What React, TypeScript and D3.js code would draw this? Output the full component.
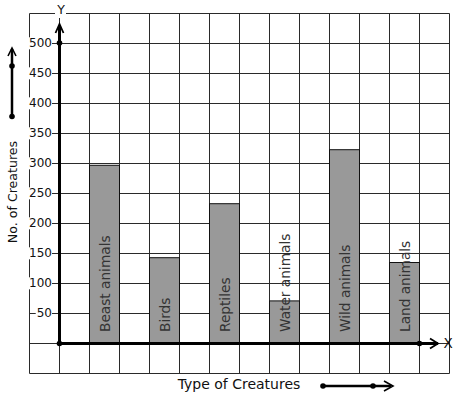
import { useEffect, useRef } from "react";
import * as d3 from "d3";

const categories = ["Beast animals", "Birds", "Reptiles", "Water animals", "Wild animals", "Land animals"];
const counts = [297, 143, 233, 71, 323, 135];
const yTicks = [50, 100, 150, 200, 250, 300, 350, 400, 450, 500];

const FONT = "DejaVu Sans, Verdana, sans-serif";

export default function App() {
  const svgRef = useRef<SVGSVGElement>(null);

  useEffect(() => {
    if (!svgRef.current) return;
    const W = 457;
    const H = 399;
    const svg = d3.select(svgRef.current);
    svg.selectAll("*").remove();
    svg.attr("width", W).attr("height", H);

    // value scale: 50 units per grid cell of 30px
    const y = d3.scaleLinear().domain([0, 500]).range([343, 43]);
    // grid column scale (one unit = one 30px cell), y axis at 0
    const gx = d3.scaleLinear().domain([-1, 13]).range([29, 449]);
    const x = d3.scaleBand<string>()
      .domain(categories)
      .range([gx(0.5), gx(12.5)])
      .paddingInner(0.5)
      .paddingOuter(0.25);

    const data = categories.map((c, i) => ({ name: c, value: counts[i] }));

    // Grid
    const grid = svg.append("g").attr("stroke", "#2a2a2a").attr("stroke-width", 1);
    grid.selectAll(".gv")
      .data(d3.range(-1, 14))
      .enter().append("line")
      .attr("x1", d => gx(d) + 0.5).attr("x2", d => gx(d) + 0.5)
      .attr("y1", y(550) + 0.5).attr("y2", y(-50) + 0.5);
    grid.selectAll(".gh")
      .data(d3.range(-50, 551, 50))
      .enter().append("line")
      .attr("x1", gx(-1) + 0.5).attr("x2", gx(13) + 0.5)
      .attr("y1", d => y(d) + 0.5).attr("y2", d => y(d) + 0.5);

    // Bars
    svg.selectAll(".bar")
      .data(data).enter().append("rect")
      .attr("x", d => (x(d.name) ?? 0) + 0.5)
      .attr("y", d => y(d.value) + 0.5)
      .attr("width", x.bandwidth())
      .attr("height", d => y(0) - y(d.value))
      .attr("fill", "#999999")
      .attr("stroke", "#111")
      .attr("stroke-width", 1);

    // Bar labels (rotated)
    svg.selectAll(".blabel")
      .data(data).enter().append("text")
      .attr("transform", d => `translate(${(x(d.name) ?? 0) + x.bandwidth() / 2 + 5.5},${y(0) - 11}) rotate(-90)`)
      .attr("font-family", FONT).attr("font-size", "13.7px")
      .attr("fill", "#333")
      .text(d => d.name);

    // Y tick labels with white background
    const tl = svg.append("g");
    yTicks.forEach(t => {
      const txt = tl.append("text")
        .attr("x", 52).attr("y", y(t)).attr("dy", "0.36em")
        .attr("text-anchor", "end")
        .attr("font-family", FONT).attr("font-size", "12px")
        .attr("fill", "#111")
        .text(String(t));
      const bb = (txt.node() as SVGTextElement).getBBox();
      tl.insert("rect", "text")
        .attr("x", bb.x - 1).attr("y", bb.y + 1)
        .attr("width", bb.width + 1).attr("height", bb.height - 2)
        .attr("fill", "#fff");
    });

    // Axes
    const axisG = svg.append("g").attr("stroke", "#000").attr("fill", "none");
    axisG.append("line")
      .attr("x1", gx(0) + 0.5).attr("x2", gx(0) + 0.5)
      .attr("y1", y(0)).attr("y2", y(500) - 18)
      .attr("stroke-width", 3);
    axisG.append("path")
      .attr("d", `M${gx(0) - 3.5},${y(500) - 10} L${gx(0) + 0.5},${y(500) - 19} L${gx(0) + 4.5},${y(500) - 10}`)
      .attr("stroke-width", 1.8);
    axisG.append("line")
      .attr("x1", gx(0)).attr("x2", gx(13) - 11)
      .attr("y1", y(0) + 0.5).attr("y2", y(0) + 0.5)
      .attr("stroke-width", 3);
    axisG.append("path")
      .attr("d", `M${gx(13) - 19},${y(0) - 4.5} L${gx(13) - 11},${y(0) + 0.5} L${gx(13) - 19},${y(0) + 5.5}`)
      .attr("stroke-width", 1.8);

    const dots = [
      [gx(0) + 0.5, y(500)],
      [gx(0) + 0.5, y(0) + 0.5],
      [gx(12) + 0.5, y(0) + 0.5],
    ];
    svg.selectAll(".dot")
      .data(dots).enter().append("circle")
      .attr("cx", d => d[0]).attr("cy", d => d[1]).attr("r", 2.8).attr("fill", "#000");

    // Axis letters
    svg.append("rect").attr("x", 55).attr("y", 9).attr("width", 11).attr("height", 9).attr("fill", "#fff");
    svg.append("text")
      .attr("x", gx(0) + 2).attr("y", 13.5)
      .attr("text-anchor", "middle")
      .attr("font-family", FONT).attr("font-size", "12.5px").attr("fill", "#111")
      .text("Y");
    svg.append("text")
      .attr("x", 448).attr("y", y(0)).attr("dy", "0.36em")
      .attr("text-anchor", "middle")
      .attr("font-family", FONT).attr("font-size", "13.5px").attr("fill", "#111")
      .text("X");

    // Axis titles
    svg.append("text")
      .attr("transform", `translate(17,192) rotate(-90)`)
      .attr("text-anchor", "middle")
      .attr("font-family", FONT).attr("font-size", "12.6px").attr("fill", "#111")
      .text("No. of Creatures");
    svg.append("text")
      .attr("x", 239).attr("y", 389)
      .attr("text-anchor", "middle")
      .attr("font-family", FONT).attr("font-size", "14px").attr("fill", "#111")
      .text("Type of Creatures");

    // Decorative arrows next to titles
    const deco = svg.append("g").attr("stroke", "#000").attr("fill", "none");
    deco.append("line").attr("x1", 12).attr("x2", 12).attr("y1", 116.5).attr("y2", 49).attr("stroke-width", 2.5);
    deco.append("path").attr("d", "M8,56 L12,48 L16,56").attr("stroke-width", 1.6);
    deco.append("line").attr("x1", 323).attr("x2", 391).attr("y1", 386).attr("y2", 386).attr("stroke-width", 2.5);
    deco.append("path").attr("d", "M384,381 L393,386 L384,391").attr("stroke-width", 1.6);
    svg.selectAll(".ddot")
      .data([[12, 66], [12, 116.5], [323, 386], [373, 386]])
      .enter().append("circle")
      .attr("cx", d => d[0]).attr("cy", d => d[1]).attr("r", 2.8).attr("fill", "#000");
  }, []);

  return (
    <div style={{ position: "absolute", left: 0, top: 0, background: "#fff" }}>
      <svg ref={svgRef} style={{ display: "block" }} />
    </div>
  );
}
